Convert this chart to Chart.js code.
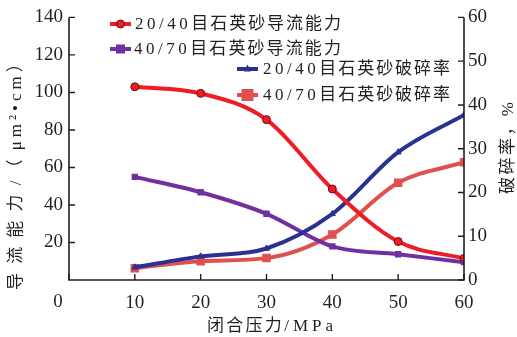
<!DOCTYPE html>
<html><head><meta charset="utf-8">
<script src="https://cdn.jsdelivr.net/npm/chart.js@4/dist/chart.umd.min.js"></script>
<style>html,body{margin:0;padding:0;background:#fff}</style></head>
<body><canvas id="c" width="517" height="337"></canvas>
<script>
const pressure = [10, 20, 30, 40, 50, 60];
const cond2040 = [103, 99.5, 85.5, 48.5, 20.5, 11.5];
const cond4070 = [55, 46.8, 35.3, 17.9, 13.7, 9.5];
const crush2040 = [2.9, 5.4, 7.2, 15.1, 29.2, 37.7];
const crush4070 = [2.7, 4.3, 5.0, 10.4, 22.2, 26.9];
const xTicks = [0, 10, 20, 30, 40, 50, 60];
const leftTicks = [20, 40, 60, 80, 100, 120, 140];
const rightTicks = [0, 10, 20, 30, 40, 50, 60];
const names = ['20/40目石英砂导流能力', '40/70目石英砂导流能力', '20/40目石英砂破碎率', '40/70目石英砂破碎率'];
const xTitle = '闭合压力/MPa';
const yTitle = '导流能力/（μm²•cm）';
const y2Title = '破碎率，%';

const FONT = "'Liberation Serif','Noto Sans CJK SC',serif";
const INK = '#231f20';
const pts = arr => pressure.map((x, i) => ({x, y: arr[i]}));

const colors = ['#ee1c25', '#7030a0', '#2b3192', '#e0504f'];
const datasets = [
  {label: names[0], data: pts(cond2040), yAxisID: 'y', borderColor: colors[0], backgroundColor: colors[0],
   pointStyle: 'circle', pointRadius: 4, pointBorderColor: '#6a0f12', pointBorderWidth: 1, order: 1},
  {label: names[1], data: pts(cond4070), yAxisID: 'y', borderColor: colors[1], backgroundColor: colors[1],
   pointStyle: 'rect', pointRadius: 4.5, pointBorderWidth: 0, order: 3},
  {label: names[2], data: pts(crush2040), yAxisID: 'y1', borderColor: colors[2], backgroundColor: colors[2],
   pointStyle: 'triangle', pointRadius: 3.5, pointBorderWidth: 1, pointBorderColor: colors[2], order: 2},
  {label: names[3], data: pts(crush4070), yAxisID: 'y1', borderColor: colors[3], backgroundColor: colors[3],
   pointStyle: 'rect', pointRadius: 6, pointBorderWidth: 0, order: 4}
];
datasets.forEach(d => { d.borderWidth = 4; d.cubicInterpolationMode = 'monotone'; d.fill = false; });

const isCJK = c => /[\u3000-\u9fff\uff00-\uffef]/.test(c);
function drawMixed(ctx, text, x, y, total, latinSp, align) {
  const chars = [...text];
  ctx.letterSpacing = '0px'; ctx.textAlign = 'left';
  let latinW = 0, cjkW = 0, nC = 0;
  chars.forEach((c, i) => {
    const w = ctx.measureText(c).width;
    if (isCJK(c)) { cjkW += w; nC++; } else { latinW += w + (i < chars.length - 1 ? latinSp : 0); }
  });
  const cSp = nC ? (total - latinW - cjkW) / nC : 0;
  let cx = align === 'center' ? x - total / 2 : x;
  chars.forEach(c => { ctx.fillText(c, cx, y); cx += ctx.measureText(c).width + (isCJK(c) ? cSp : latinSp); });
}

function drawMarker(ctx, ds, x, y) {
  ctx.save();
  ctx.fillStyle = ds.backgroundColor;
  ctx.strokeStyle = ds.pointBorderColor || ds.backgroundColor;
  ctx.lineWidth = ds.pointBorderWidth || 0;
  const r = ds.pointRadius;
  ctx.beginPath();
  if (ds.pointStyle === 'circle') { ctx.arc(x, y, r, 0, Math.PI * 2); ctx.fill(); ctx.stroke(); }
  else if (ds.pointStyle === 'rect') { ctx.fillRect(x - r, y - r, 2 * r, 2 * r); }
  else if (ds.pointStyle === 'triangle') { ctx.moveTo(x, y - r * 1.3); ctx.lineTo(x + r, y + r * 0.7); ctx.lineTo(x - r, y + r * 0.7); ctx.closePath(); ctx.fill(); }
  ctx.restore();
}

const deco = {
  id: 'deco',
  afterDraw(chart) {
    const ctx = chart.ctx, a = chart.chartArea;
    const sx = chart.scales.x, sy = chart.scales.y, sy1 = chart.scales.y1;
    ctx.save();
    ctx.strokeStyle = INK; ctx.lineWidth = 1.6;
    ctx.beginPath();
    ctx.moveTo(a.left, a.top); ctx.lineTo(a.left, a.bottom); ctx.lineTo(a.right, a.bottom); ctx.lineTo(a.right, a.top);
    ctx.stroke();
    ctx.lineWidth = 1.4;
    ctx.beginPath();
    leftTicks.forEach(v => { const y = sy.getPixelForValue(v); ctx.moveTo(a.left, y); ctx.lineTo(a.left + 6, y); });
    rightTicks.forEach(v => { const y = sy1.getPixelForValue(v); ctx.moveTo(a.right, y); ctx.lineTo(a.right - 6, y); });
    xTicks.forEach(v => { const x = sx.getPixelForValue(v); ctx.moveTo(x, a.bottom); ctx.lineTo(x, a.bottom - 6); });
    ctx.stroke();
    ctx.fillStyle = INK; ctx.font = '19px ' + FONT; ctx.textBaseline = 'middle';
    ctx.textAlign = 'center';
    ctx.fillText('0', sx.getPixelForValue(0) - 11, 302);
    ctx.font = '17px ' + FONT;
    drawMixed(ctx, xTitle, 270, 327, 126, 4, 'center');
    ctx.save(); ctx.translate(17, 168); ctx.rotate(-Math.PI / 2);
    drawMixed(ctx, yTitle, 0, 0, 244, 4, 'center'); ctx.restore();
    ctx.save(); ctx.translate(509, 148); ctx.rotate(-Math.PI / 2);
    drawMixed(ctx, y2Title, 0, 0, 92, 2, 'center'); ctx.restore();
    const items = [
      {x0: 110, x1: 131, y: 24, tx: 135, tw: 208},
      {x0: 110, x1: 131, y: 49, tx: 134, tw: 209},
      {x0: 237, x1: 258, y: 69, tx: 263, tw: 189},
      {x0: 237, x1: 258, y: 95, tx: 263, tw: 189}
    ];
    items.forEach((it, i) => {
      const ds = datasets[i];
      ctx.strokeStyle = ds.borderColor; ctx.lineWidth = 4;
      ctx.beginPath(); ctx.moveTo(it.x0, it.y); ctx.lineTo(it.x1, it.y); ctx.stroke();
      drawMarker(ctx, ds, (it.x0 + it.x1) / 2, it.y);
      ctx.fillStyle = INK; ctx.font = '17px ' + FONT; ctx.textBaseline = 'middle';
      drawMixed(ctx, names[i], it.tx, it.y + 1, it.tw, 3.5, 'left');
    });
    ctx.restore();
  }
};

const tickFont = {family: FONT, size: 19};
new Chart(document.getElementById('c'), {
  type: 'line',
  data: {datasets},
  options: {
    responsive: false, animation: false,
    layout: {padding: {top: 15, left: 0, right: 0, bottom: 0}},
    plugins: {legend: {display: false}, tooltip: {enabled: false}},
    scales: {
      x: {type: 'linear', min: 0, max: 60,
          afterBuildTicks: s => { s.ticks = xTicks.map(v => ({value: v})); },
          ticks: {font: tickFont, color: INK, padding: 12, maxRotation: 0, callback: v => v === 0 ? '' : v},
          grid: {display: false, drawTicks: false}, border: {display: false},
          afterFit: s => { s.height = 57; }},
      y: {type: 'linear', position: 'left', min: 0, max: 140,
          afterBuildTicks: s => { s.ticks = leftTicks.map(v => ({value: v})); },
          ticks: {font: tickFont, color: INK, padding: 6},
          grid: {display: false, drawTicks: false}, border: {display: false},
          afterFit: s => { s.width = 69; }},
      y1: {type: 'linear', position: 'right', min: 0, max: 60,
          afterBuildTicks: s => { s.ticks = rightTicks.map(v => ({value: v})); },
          ticks: {font: tickFont, color: INK, padding: 4},
          grid: {display: false, drawTicks: false}, border: {display: false},
          afterFit: s => { s.width = 53; }}
    }
  },
  plugins: [deco]
});
</script>
</body></html>
